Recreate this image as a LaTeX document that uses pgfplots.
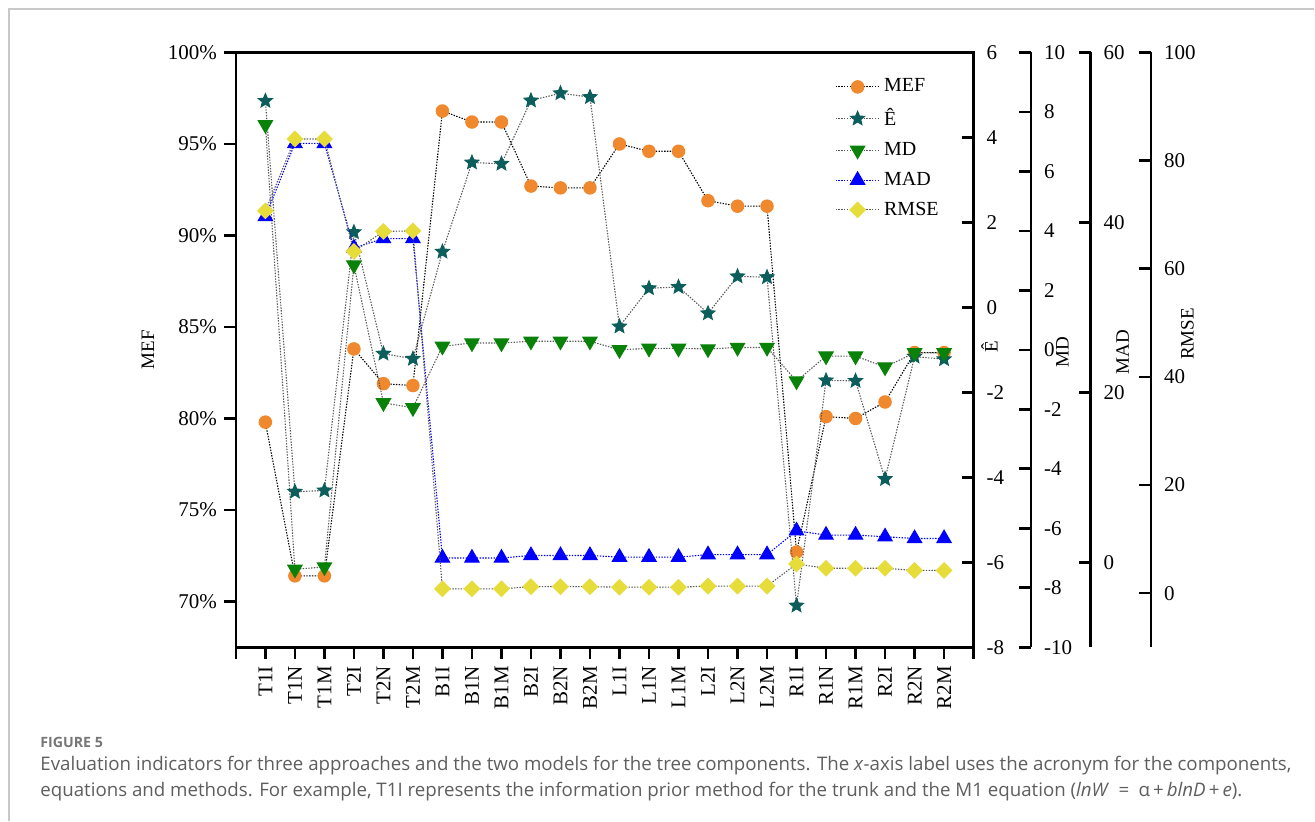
\documentclass[border=0pt]{standalone}
\usepackage{fontspec}
\setmainfont{Liberation Serif}
\newfontfamily\capfont{Open Sans}
\usepackage{pgfplots}
\pgfplotsset{compat=1.18}
\usetikzlibrary{plotmarks}

\definecolor{mefc}{HTML}{F0882E}
\definecolor{ehc}{HTML}{0B5E5B}
\definecolor{mdc}{HTML}{0A820A}
\definecolor{madc}{HTML}{0000FF}
\definecolor{rmsec}{HTML}{E6DC3A}
\definecolor{lnc}{HTML}{5A5A5A}
\definecolor{capc}{HTML}{5E5E5E}
\definecolor{framec}{HTML}{C8C8C8}

% filled five-pointed star
\pgfdeclareplotmark{fstar}{%
  \pgfpathmoveto{\pgfpointpolar{90}{\pgfplotmarksize}}%
  \pgfpathlineto{\pgfpointpolar{126}{0.45\pgfplotmarksize}}%
  \pgfpathlineto{\pgfpointpolar{162}{\pgfplotmarksize}}%
  \pgfpathlineto{\pgfpointpolar{198}{0.45\pgfplotmarksize}}%
  \pgfpathlineto{\pgfpointpolar{234}{\pgfplotmarksize}}%
  \pgfpathlineto{\pgfpointpolar{270}{0.45\pgfplotmarksize}}%
  \pgfpathlineto{\pgfpointpolar{306}{\pgfplotmarksize}}%
  \pgfpathlineto{\pgfpointpolar{342}{0.45\pgfplotmarksize}}%
  \pgfpathlineto{\pgfpointpolar{18}{\pgfplotmarksize}}%
  \pgfpathlineto{\pgfpointpolar{54}{0.45\pgfplotmarksize}}%
  \pgfpathclose
  \pgfusepathqfillstroke
}

\pgfplotsset{
  base/.style={
    scale only axis, width=369pt, height=297.5pt,
    at={(118pt,86.75pt)}, anchor=south west,
    xmin=-1, xmax=24,
    /pgf/number format/assume math mode=true,
    tick label style={font=\fontsize{10.5}{12}\selectfont},
    axis line style={line width=1.3pt},
    major tick style={line width=1.3pt, black},
    major tick length=6pt,
  },
  data/.style={base, hide axis},
  rscale/.style={
    scale only axis, height=297.5pt,
    at={(118pt,86.75pt)}, anchor=south west,
    xmin=0, xmax=1,
    axis x line=none, axis y line*=right,
    ytick align=inside,
    /pgf/number format/assume math mode=true,
    tick label style={font=\fontsize{10.5}{12}\selectfont},
    yticklabel style={xshift=3pt},
    axis line style={line width=1.3pt},
    major tick style={line width=1.3pt, black},
    major tick length=6pt,
  },
  ylab/.style 2 args={
    every axis y label/.style={at={(rel axis cs:1,0.5)}, xshift=#1, yshift=#2,
      anchor=center, rotate=90, font=\fontsize{9.5}{11}\selectfont},
  },
  dots/.style={line width=0.55pt, dash pattern=on 0.7pt off 0.7pt},
  mefS/.style={black, dots, mark=*, mark size=3.1pt,
    mark options={solid, fill=mefc, draw=mefc}},
  eS/.style={lnc, dots, mark=fstar, mark size=3.6pt,
    mark options={solid, fill=ehc, draw=ehc}},
  mdS/.style={lnc, dots, mark=triangle*, mark size=4.1pt,
    mark options={solid, rotate=180, fill=mdc, draw=mdc}},
  madS/.style={madc, dots, mark=triangle*, mark size=4.1pt,
    mark options={solid, fill=madc, draw=madc}},
  rmseS/.style={lnc, dots, mark=square*, mark size=2.7pt,
    mark options={solid, rotate=45, fill=rmsec, draw=rmsec}},
}

\begin{document}
\begin{tikzpicture}
\path (0,0) rectangle (657.5pt,410.5pt);
\draw[framec, line width=0.6pt] (4.5pt,0pt) -- (4.5pt,406pt) -- (657.5pt,406pt);

% MEF, the main box
\begin{axis}[
  base,
  ymin=67.5, ymax=100,
  tick align=outside,
  xtick pos=bottom, ytick pos=left,
  xtick={-1,0,...,24},
  xticklabels={,T1I,T1N,T1M,T2I,T2N,T2M,B1I,B1N,B1M,B2I,B2N,B2M,L1I,L1N,L1M,L2I,L2N,L2M,R1I,R1N,R1M,R2I,R2N,R2M,},
  xticklabel style={rotate=90, anchor=east},
  ytick={70,75,80,85,90,95,100},
  yticklabels={70\%,75\%,80\%,85\%,90\%,95\%,100\%},
  ylabel={MEF},
  every axis y label/.style={at={(rel axis cs:0,0.5)}, xshift=-44pt,
    anchor=center, rotate=90, font=\fontsize{9.5}{11}\selectfont},
  legend style={at={(rel axis cs:0.8117,0.963)}, anchor=north west,
    draw=none, fill=none, inner sep=0pt, row sep=2.8pt,
    font=\fontsize{10}{12}\selectfont, cells={anchor=west}},
  legend image code/.code={%
    \draw[mark repeat=2,mark phase=2,#1] plot coordinates {(0pt,0pt) (11pt,0pt) (22pt,0pt)};},
]
\addplot[mefS] coordinates {
  (0,79.8) (1,71.4) (2,71.4) (3,83.8) (4,81.9) (5,81.8)
  (6,96.8) (7,96.2) (8,96.2) (9,92.7) (10,92.6) (11,92.6)
  (12,95.0) (13,94.6) (14,94.6) (15,91.9) (16,91.6) (17,91.6)
  (18,72.7) (19,80.1) (20,80.0) (21,80.9) (22,83.6) (23,83.6)
};
\addlegendentry{MEF}
\addlegendimage{eS}
\addlegendentry{Ê}
\addlegendimage{mdS}
\addlegendentry{MD}
\addlegendimage{madS}
\addlegendentry{MAD}
\addlegendimage{rmseS}
\addlegendentry{RMSE}
\end{axis}

% Ê, on the right side of the box
\begin{axis}[
  base,
  ymin=-8, ymax=6,
  axis x line=none, axis y line*=right,
  ytick align=inside,
  ytick={-8,-6,...,6},
  yticklabel style={xshift=3pt},
  ylabel={Ê}, ylab={8pt}{1.5pt},
]
\addplot[eS] coordinates {
  (0,4.86) (1,-4.34) (2,-4.31) (3,1.77) (4,-1.09) (5,-1.21)
  (6,1.31) (7,3.41) (8,3.38) (9,4.87) (10,5.04) (11,4.95)
  (12,-0.45) (13,0.45) (14,0.48) (15,-0.14) (16,0.73) (17,0.71)
  (18,-7.02) (19,-1.72) (20,-1.73) (21,-4.04) (22,-1.16) (23,-1.22)
};
\end{axis}

% MD data
\begin{axis}[data, ymin=-10, ymax=10]
\addplot[mdS] coordinates {
  (0,7.57) (1,-7.38) (2,-7.30) (3,2.85) (4,-1.78) (5,-1.95)
  (6,0.12) (7,0.23) (8,0.23) (9,0.29) (10,0.29) (11,0.29)
  (12,0.0) (13,0.05) (14,0.05) (15,0.03) (16,0.08) (17,0.08)
  (18,-1.05) (19,-0.21) (20,-0.21) (21,-0.58) (22,-0.10) (23,-0.10)
};
\end{axis}

% MAD data
\begin{axis}[data, ymin=-10, ymax=60]
\addplot[madS] coordinates {
  (0,40.7) (1,49.3) (2,49.3) (3,37.0) (4,38.1) (5,38.1)
  (6,0.5) (7,0.5) (8,0.5) (9,0.8) (10,0.8) (11,0.8)
  (12,0.6) (13,0.6) (14,0.6) (15,0.9) (16,0.9) (17,0.9)
  (18,3.7) (19,3.2) (20,3.2) (21,3.0) (22,2.8) (23,2.8)
};
\end{axis}

% RMSE data
\begin{axis}[data, ymin=-10, ymax=100]
\addplot[rmseS] coordinates {
  (0,70.7) (1,84.0) (2,84.0) (3,63.2) (4,66.9) (5,67.0)
  (6,0.8) (7,0.8) (8,0.8) (9,1.2) (10,1.2) (11,1.2)
  (12,1.1) (13,1.1) (14,1.1) (15,1.3) (16,1.3) (17,1.3)
  (18,5.4) (19,4.6) (20,4.6) (21,4.6) (22,4.2) (23,4.2)
};
\end{axis}

% offset scales for MD, MAD and RMSE
\begin{axis}[rscale, width=397.75pt, ymin=-10, ymax=10,
  ytick={-10,-8,...,10}, ylabel={MD}, ylab={15.75pt}{-1pt}]
\end{axis}
\begin{axis}[rscale, width=427.5pt, ymin=-10, ymax=60,
  ytick={0,20,40,60}, ylabel={MAD}, ylab={16pt}{-1pt}]
\end{axis}
\begin{axis}[rscale, width=457.75pt, ymin=-10, ymax=100,
  ytick={0,20,...,100}, ylabel={RMSE}, ylab={18.25pt}{8pt}]
\end{axis}

% caption
\node[anchor=base west, inner sep=0pt, text=capc!85!white,
  font=\capfont\bfseries\fontsize{7.1}{9}\selectfont] at (20pt,36.5pt) {FIGURE 5};
\node[anchor=base west, inner sep=0pt, text=capc,
  font=\capfont\fontsize{9.35}{11}\selectfont] at (20pt,25pt)
  {Evaluation indicators for three approaches and the two models for the tree components. The \textit{x}-axis label uses the acronym for the components,};
\node[anchor=base west, inner sep=0pt, text=capc,
  font=\capfont\fontsize{9.35}{11}\selectfont] at (20pt,12pt)
  {equations and methods. For example, T1I represents the information prior method for the trunk and the M1 equation (\textit{lnW}\enspace=\enspace α\,+\,\textit{blnD}\,+\,\textit{e}).};
\end{tikzpicture}
\end{document}
